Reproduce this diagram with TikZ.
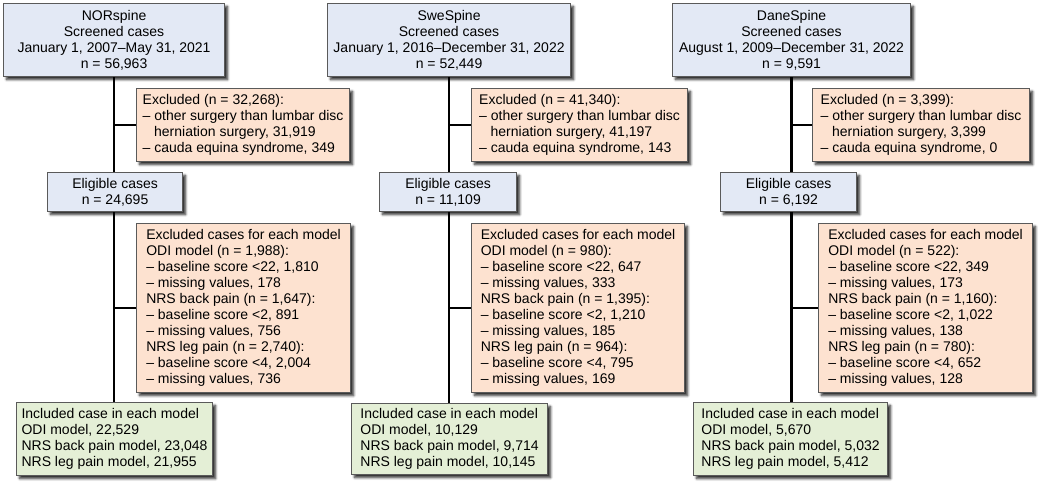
\documentclass[tikz,border=0pt]{standalone}
\usepackage{fontspec}
\setmainfont{Liberation Sans}
\usetikzlibrary{shadows.blur,backgrounds}
\definecolor{bluebox}{HTML}{E3E9F5}
\definecolor{peachbox}{HTML}{FDE2D0}
\definecolor{greenbox}{HTML}{E4EFD6}
\definecolor{edgegray}{HTML}{5A5A5A}
\tikzset{
  basebox/.style={draw=edgegray, line width=1.1pt, inner xsep=2pt, inner ysep=0pt,
    anchor=north west, font=\fontsize{14}{16}\selectfont,
    blur shadow={shadow xshift=3pt, shadow yshift=-3pt, shadow blur steps=5, shadow blur radius=2.5pt, shadow opacity=85}},
  bluebx/.style={basebox, fill=bluebox, align=center},
  peachbx/.style={basebox, fill=peachbox, align=left},
  greenbx/.style={basebox, fill=greenbox, align=left},
  conn/.style={line width=2.2pt, black},
}
\newcommand{\bx}[7]{%
  \pgfmathsetmacro{\mymw}{#5-#3}%
  \pgfmathsetmacro{\mymh}{#6-#4}%
  \node[#2, minimum width=\mymw pt, minimum height=\mymh pt] (#1) at (#3,-#4) {#7};%
}
\newcommand{\hang}{\hspace*{0.82em}}
\begin{document}
\begin{tikzpicture}[x=1pt,y=1pt]
\useasboundingbox (0,0) rectangle (1043,-487);
% Column 1
\bx{top1}{bluebx}{3}{3}{224}{76}{NORspine\\Screened cases\\January 1, 2007–May 31, 2021\\n = 56,963}
\bx{exA1}{peachbx}{136}{88}{349}{161}{Excluded (n = 32,268):\\– other surgery than lumbar disc\\\hang herniation surgery, 31,919\\– cauda equina syndrome, 349}
\bx{elig1}{bluebx}{47}{172}{182}{211}{Eligible cases\\n = 24,695}
\bx{exB1}{peachbx}{136}{223}{350}{392}{Excluded cases for each model\\ODI model (n = 1,988):\\– baseline score <22, 1,810\\– missing values, 178\\NRS back pain (n = 1,647):\\– baseline score <2, 891\\– missing values, 756\\NRS leg pain (n = 2,740):\\– baseline score <4, 2,004\\– missing values, 736}
\bx{inc1}{greenbx}{16}{402}{212}{475}{Included case in each model\\ODI model, 22,529\\NRS back pain model, 23,048\\NRS leg pain model, 21,955}
% Column 2
\bx{top2}{bluebx}{327}{3}{570}{76}{SweSpine\\Screened cases\\January 1, 2016–December 31, 2022\\n = 52,449}
\bx{exA2}{peachbx}{471}{88}{687}{161}{Excluded (n = 41,340):\\– other surgery than lumbar disc\\\hang herniation surgery, 41,197\\– cauda equina syndrome, 143}
\bx{elig2}{bluebx}{379}{172}{516}{211}{Eligible cases\\n = 11,109}
\bx{exB2}{peachbx}{471}{223}{684}{392}{Excluded cases for each model\\ODI model (n = 980):\\– baseline score <22, 647\\– missing values, 333\\NRS back pain (n = 1,395):\\– baseline score <2, 1,210\\– missing values, 185\\NRS leg pain (n = 964):\\– baseline score <4, 795\\– missing values, 169}
\bx{inc2}{greenbx}{351}{403}{547}{474}{Included case in each model\\ODI model, 10,129\\NRS back pain model, 9,714\\NRS leg pain model, 10,145}
% Column 3
\bx{top3}{bluebx}{672}{3}{910}{76}{DaneSpine\\Screened cases\\August 1, 2009–December 31, 2022\\n = 9,591}
\bx{exA3}{peachbx}{812}{88}{1029}{161}{Excluded (n = 3,399):\\– other surgery than lumbar disc\\\hang herniation surgery, 3,399\\– cauda equina syndrome, 0}
\bx{elig3}{bluebx}{720}{172}{856}{211}{Eligible cases\\n = 6,192}
\bx{exB3}{peachbx}{818}{223}{1032}{392}{Excluded cases for each model\\ODI model (n = 522):\\– baseline score <22, 349\\– missing values, 173\\NRS back pain (n = 1,160):\\– baseline score <2, 1,022\\– missing values, 138\\NRS leg pain (n = 780):\\– baseline score <4, 652\\– missing values, 128}
\bx{inc3}{greenbx}{693}{402}{887}{475}{Included case in each model\\ODI model, 5,670\\NRS back pain model, 5,032\\NRS leg pain model, 5,412}
% Connectors
\begin{scope}[on background layer]
\foreach \c in {1,2,3}{
  \draw[conn] (top\c.south) -- (top\c.south |- elig\c.north);
  \draw[conn] (top\c.south |- elig\c.south) -- (top\c.south |- inc\c.north);
  \draw[conn] (exA\c.west) -- (exA\c.west -| top\c.south);
  \draw[conn] (exB\c.west) -- (exB\c.west -| top\c.south);
}
\end{scope}
\end{tikzpicture}
\end{document}
